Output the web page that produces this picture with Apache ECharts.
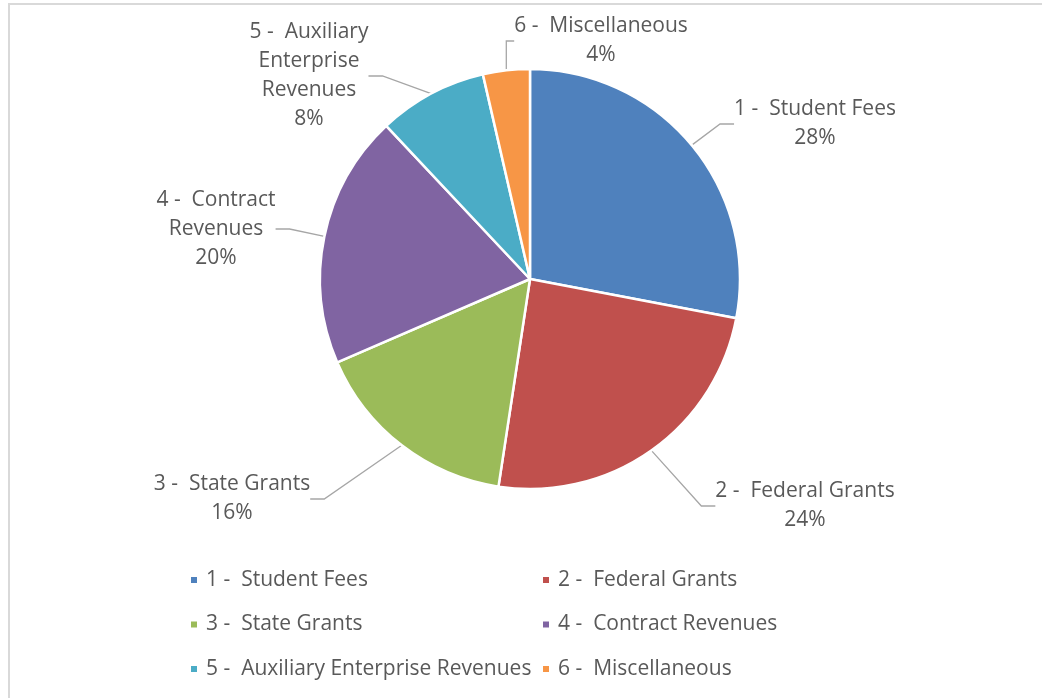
<!DOCTYPE html>
<html>
<head>
<meta charset="utf-8">
<script src="https://cdn.jsdelivr.net/npm/echarts@6/dist/echarts.min.js"></script>
<style>
html, body { margin: 0; padding: 0; background: #fff; }
#chart { width: 1042px; height: 698px; }
</style>
</head>
<body>
<div id="chart"></div>
<script>
var categories = ['1 -  Student Fees', '2 -  Federal Grants', '3 -  State Grants',
    '4 -  Contract Revenues', '5 -  Auxiliary Enterprise Revenues', '6 -  Miscellaneous'];
// wrapped versions used for the slice labels
var labelTexts = ['1 -  Student Fees', '2 -  Federal Grants', '3 -  State Grants',
    '4 -  Contract\nRevenues', '5 -  Auxiliary\nEnterprise\nRevenues', '6 -  Miscellaneous'];
var values = [28.0, 24.4, 16.1, 19.5, 8.4, 3.6];
var colors = ['#4f81bd', '#c0504d', '#9bbb59', '#8064a2', '#4bacc6', '#f79646'];
// centre of each label block, like the excel layout
var labelPos = [[815, 124], [805, 506], [232, 499], [216, 229], [309, 76], [601, 41]];

var chart = echarts.init(document.getElementById('chart'));

var pieData = [];
for (var i = 0; i < categories.length; i++) {
    pieData.push({ name: categories[i], value: values[i], itemStyle: { color: colors[i] } });
}

var textStyle = { color: '#595959', fontSize: 21, fontFamily: 'Open Sans', lineHeight: 22, padding: [0, 0, 0, 3] };

option = {
    animation: false,
    graphic: [{
        type: 'rect',
        shape: { x: 9, y: 4, width: 1200, height: 900 },
        style: { fill: 'none', stroke: '#d9d9d9', lineWidth: 2 },
        silent: true
    }],
    legend: [
        {
            orient: 'vertical', left: 184, top: 564, itemGap: 22.5,
            itemWidth: 8, itemHeight: 8, icon: 'rect',
            data: [categories[0], categories[2], categories[4]],
            textStyle: textStyle
        },
        {
            orient: 'vertical', left: 536, top: 564, itemGap: 22.5,
            itemWidth: 8, itemHeight: 8, icon: 'rect',
            data: [categories[1], categories[3], categories[5]],
            textStyle: textStyle
        }
    ],
    series: [
        {
            type: 'pie',
            center: [530, 279],
            radius: 210,
            startAngle: 90,
            clockwise: true,
            percentPrecision: 0,
            data: pieData,
            itemStyle: { borderColor: '#fff', borderWidth: 2.5 },
            label: {
                show: true,
                position: 'outside',
                formatter: function (p) {
                    return labelTexts[p.dataIndex] + '\n' + p.percent + '%';
                },
                color: '#595959',
                fontSize: 21,
                fontFamily: 'Open Sans',
                lineHeight: 29,
                align: 'center'
            },
            labelLine: {
                show: true,
                length: 18,
                length2: 14,
                lineStyle: { color: '#a6a6a6', width: 1.3 }
            },
            labelLayout: function (params) {
                var p = labelPos[params.dataIndex];
                return { x: p[0], y: p[1], align: 'center', verticalAlign: 'middle', hideOverlap: false, moveOverlap: null };
            }
        }
    ]
};

chart.setOption(option);
</script>
</body>
</html>
